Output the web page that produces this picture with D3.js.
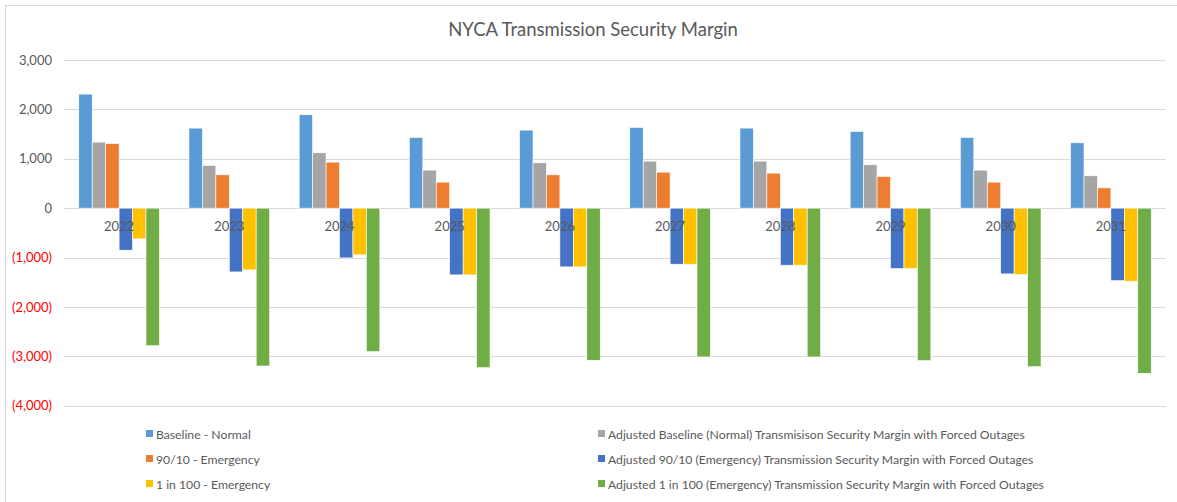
<!DOCTYPE html>
<html>
<head>
<meta charset="utf-8">
<script src="https://cdn.jsdelivr.net/npm/d3@7"></script>
<style>
  body { margin: 0; background: #fff; }
  text { font-family: "Lato", "Liberation Sans", sans-serif; }
</style>
</head>
<body>
<div id="chart"></div>
<script>
// chart data ------------------------------------------------------------
var years = ["2022","2023","2024","2025","2026","2027","2028","2029","2030","2031"];

var seriesNames = [
  "Baseline - Normal",
  "Adjusted Baseline (Normal) Transmisison Security Margin with Forced Outages",
  "90/10 - Emergency",
  "Adjusted 90/10 (Emergency) Transmission Security Margin with Forced Outages",
  "1 in 100 - Emergency",
  "Adjusted 1 in 100 (Emergency) Transmission Security Margin with Forced Outages"
];

var baselineNormal   = [2310, 1621, 1891, 1431, 1580, 1634, 1621, 1553, 1431, 1323];
var adjBaseline      = [1337,  863, 1121,  770,  918,  952,  952,  878,  770,  655];
var emerg9010        = [1309,  675,  932,  527,  675,  729,  709,  641,  527,  411];
var adjEmerg9010     = [-851, -1291, -1007, -1351, -1189, -1135, -1155, -1223, -1331, -1467];
var emerg1in100      = [-622, -1250, -946, -1351, -1189, -1135, -1155, -1223, -1345, -1479];
var adjEmerg1in100   = [-2784, -3196, -2905, -3230, -3080, -3013, -3013, -3088, -3209, -3344];

var yTicks = [3000, 2000, 1000, 0, -1000, -2000, -3000, -4000];

// bar order inside a year group
var barSeries = [baselineNormal, adjBaseline, emerg9010, adjEmerg9010, emerg1in100, adjEmerg1in100];
var colors = ["#5B9BD5", "#A5A5A5", "#ED7D31", "#4472C4", "#FFC000", "#70AD47"];

//Width and height
var w = 1177;
var h = 502;

var plotLeft = 64, plotRight = 1166;
var plotTop = 60, plotBottom = 405.7;

var svg = d3.select("#chart")
			.append("svg")
			.attr("width", w)
			.attr("height", h);

// chart frame
svg.append("rect")
   .attr("x", 5.5).attr("y", 5.5)
   .attr("width", w + 10).attr("height", h + 10)
   .attr("fill", "none")
   .attr("stroke", "#d9d9d9");

// title
svg.append("text")
   .attr("x", 593).attr("y", 36)
   .attr("text-anchor", "middle")
   .attr("font-size", 18.5)
   .attr("fill", "#595959")
   .text("NYCA Transmission Security Margin");

// scales
var y = d3.scaleLinear().domain([-4000, 3000]).range([plotBottom, plotTop]);

var x0 = d3.scaleBand().domain(years).range([plotLeft, plotRight]).padding(0);
var gap = x0.bandwidth() * 0.134;
var x1 = d3.scaleBand().domain(d3.range(barSeries.length))
		   .range([gap, x0.bandwidth() - gap]).padding(0);

// gridlines
svg.append("g")
   .selectAll("line")
   .data(yTicks)
   .enter()
   .append("line")
   .attr("x1", plotLeft).attr("x2", plotRight)
   .attr("y1", function(d) { return Math.round(y(d)) + 0.5; })
   .attr("y2", function(d) { return Math.round(y(d)) + 0.5; })
   .attr("stroke", "#d9d9d9")
   .attr("stroke-width", 1.2);

// y axis labels (negatives in red parentheses)
var yAxis = d3.axisLeft(y)
			  .tickValues(yTicks)
			  .tickSize(0)
			  .tickPadding(0)
			  .tickFormat(function(d) {
					var s = d3.format(",")(Math.abs(d));
					return d < 0 ? "(" + s + ")" : s;
			  });

var yG = svg.append("g")
			.attr("transform", "translate(52,0)")
			.call(yAxis);
yG.select(".domain").remove();
yG.selectAll("text")
  .attr("font-family", "Lato, 'Liberation Sans', sans-serif")
  .attr("font-size", 13)
  .attr("fill", function(d) { return d < 0 ? "#FF0000" : "#595959"; });

// bars
var groups = svg.append("g")
				.selectAll("g")
				.data(years)
				.enter()
				.append("g")
				.attr("transform", function(d) { return "translate(" + x0(d) + ",0)"; });

groups.selectAll("rect")
	  .data(function(d, i) {
			return barSeries.map(function(s, k) { return { k: k, v: s[i] }; });
	  })
	  .enter()
	  .append("rect")
	  .attr("x", function(d) { return x1(d.k); })
	  .attr("width", x1.bandwidth())
	  .attr("y", function(d) { return d.v >= 0 ? y(d.v) : y(0); })
	  .attr("height", function(d) { return Math.abs(y(d.v) - y(0)); })
	  .attr("fill", function(d) { return colors[d.k]; })
	  .attr("stroke", "#ffffff")
	  .attr("stroke-width", 0.6);

// x category labels just below the zero line, drawn over the bars
svg.append("g")
   .selectAll("text")
   .data(years)
   .enter()
   .append("text")
   .attr("x", function(d) { return x0(d) + x0.bandwidth() / 2; })
   .attr("y", y(0) + 23)
   .attr("text-anchor", "middle")
   .attr("font-size", 13)
   .attr("fill", "#595959")
   .text(function(d) { return d; });

// legend: two columns, three rows
var legendCols = [146, 598];
var legendRows = [434, 459, 484];

var legend = svg.append("g")
				.selectAll("g")
				.data(seriesNames)
				.enter()
				.append("g")
				.attr("transform", function(d, i) {
					return "translate(" + legendCols[i % 2] + "," + legendRows[Math.floor(i / 2)] + ")";
				});

legend.append("rect")
	  .attr("x", 0).attr("y", -4)
	  .attr("width", 7).attr("height", 7)
	  .attr("fill", function(d, i) { return colors[i]; });

legend.append("text")
	  .attr("x", 10).attr("y", 4.5)
	  .attr("font-size", 12.2)
	  .attr("fill", "#595959")
	  .text(function(d) { return d; });
</script>
</body>
</html>
